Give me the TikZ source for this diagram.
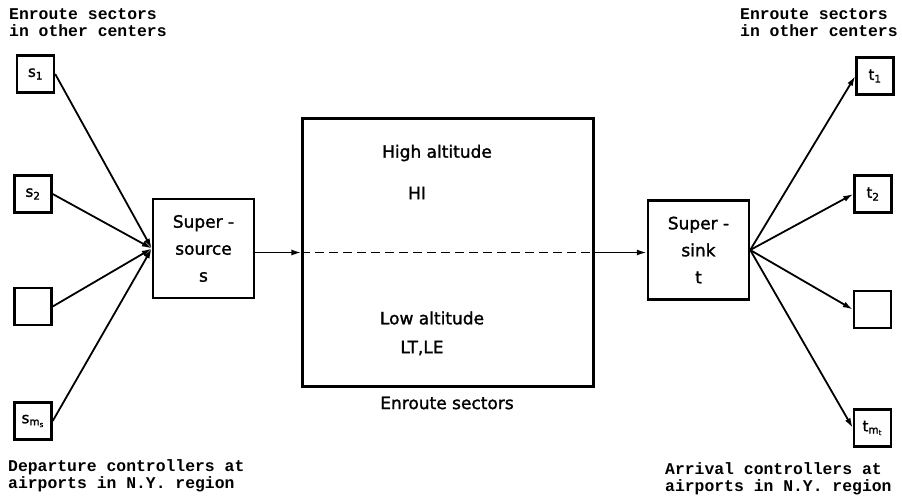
\documentclass[tikz,border=0pt]{standalone}
\usepackage{fontspec}
\usepackage{tikz}
\usetikzlibrary{arrows.meta}
\newfontfamily\letterfont[FakeBold=1.5]{DejaVu Sans}
\newfontfamily\printfont{Liberation Mono}

\begin{document}
\begin{tikzpicture}[x=1pt, y=-1pt, >={Latex[length=10pt, width=6pt]}]
	\tikzstyle{endnode}=[
	draw,
	rectangle,
	line width=2.4pt,
	minimum size=37pt,
	inner sep=0pt,
	font=\letterfont\fontsize{15}{16}\selectfont
	]
	\tikzstyle{supernode}=[
	draw,
	rectangle,
	line width=2.4pt,
	minimum width=101pt,
	minimum height=99pt,
	align=center,
	font=\letterfont\fontsize{17}{27}\selectfont
	]
	\tikzstyle{sectorbox}=[
	draw,
	rectangle,
	line width=2.2pt,
	minimum width=291pt,
	minimum height=268pt
	]
	\tikzstyle{sectortext}=[
	inner sep=0pt,
	font=\letterfont\fontsize{17}{20}\selectfont
	]
	\tikzstyle{printlabel}=[
	align=left,
	anchor=north west,
	inner sep=0pt,
	font=\printfont\bfseries\fontsize{16.4}{17}\selectfont
	]
	\tikzstyle{flow}=[->, line width=1.8pt]
	\useasboundingbox (0,0) rectangle (902,496);
	\node[endnode] (s1) at (35.5,74) {s\textsubscript{1}};
	\node[endnode] (s2) at (33,194) {s\textsubscript{2}};
	\node[endnode] (s3) at (33,306.5) {};
	\node[endnode] (s4) at (33,421) {s\textsubscript{m\textsubscript{s}}};
	\node[supernode] (source) at (203.5,248.5) {Super -\\source\\s};
	\node[sectorbox] (enroute) at (448,252.5) {};
	\node[supernode] (sink) at (698.5,250) {Super -\\sink\\t};
	\node[endnode] (t1) at (875,76) {t\textsubscript{1}};
	\node[endnode] (t2) at (873,194) {t\textsubscript{2}};
	\node[endnode] (t3) at (872.5,309.5) {};
	\node[endnode] (t4) at (872.5,428) {t\textsubscript{m\textsubscript{t}}};
	\node[sectortext] (high) at (437,153) {High altitude};
	\node[sectortext] (hi) at (417,193) {HI};
	\node[sectortext] (low) at (432,318) {Low altitude};
	\node[sectortext] (ltle) at (422,348) {LT,LE};
	\node[sectortext] (sectors) at (447,403) {Enroute sectors};
	\node[printlabel] (otherleft) at (9,8) {Enroute sectors\\in other centers};
	\node[printlabel] (otherright) at (740,8) {Enroute sectors\\in other centers};
	\node[printlabel] (departure) at (8,459) {Departure controllers at\\airports in N.Y. region};
	\node[printlabel] (arrival) at (665,462) {Arrival controllers at\\airports in N.Y. region};
	\draw[flow] (s1.east) -- (source.west);
	\draw[flow] (s2.east) -- (source.west);
	\draw[flow] (s3.east) -- (source.west);
	\draw[flow] (s4.east) -- (source.west);
	\draw[flow] (source.east |- enroute.west) -- (enroute.west);
	\draw[line width=1.8pt, dash pattern=on 9pt off 5pt] (enroute.west) -- (enroute.east);
	\draw[flow] (enroute.east) -- (enroute.east -| sink.west);
	\draw[flow] (sink.east) -- (t1.west);
	\draw[flow] (sink.east) -- (t2.west);
	\draw[flow] (sink.east) -- (t3.west);
	\draw[flow] (sink.east) -- (t4.west);
\end{tikzpicture}
\end{document}
